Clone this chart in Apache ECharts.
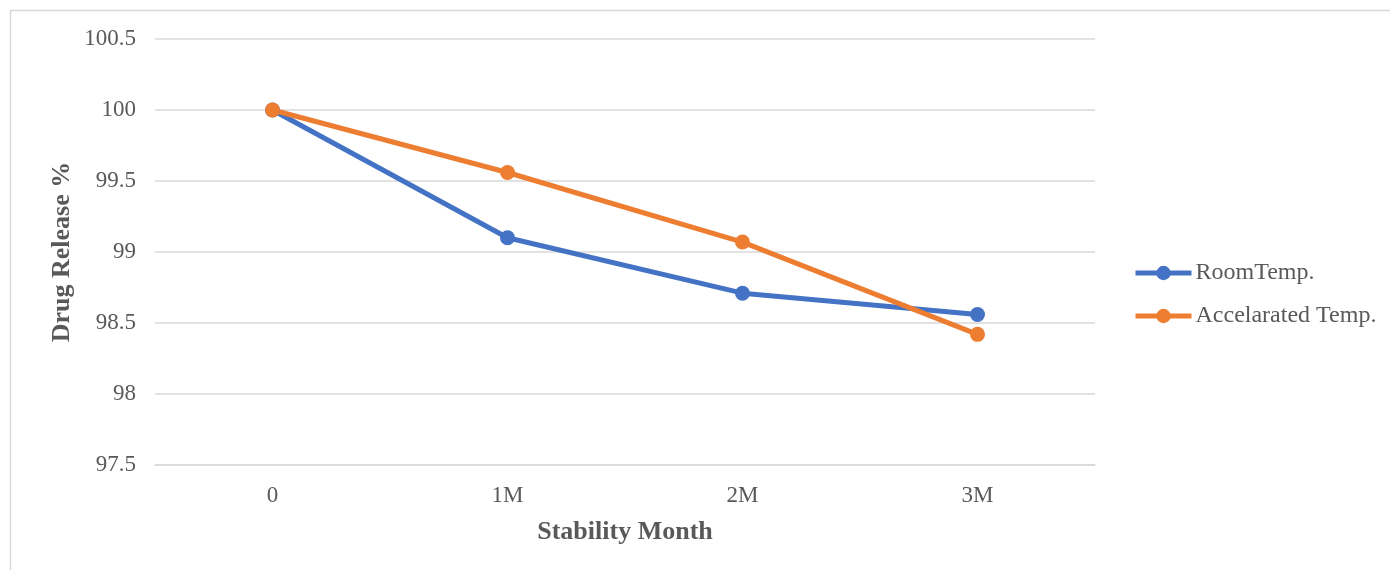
<!DOCTYPE html>
<html>
<head>
<meta charset="utf-8">
<script src="https://cdn.jsdelivr.net/npm/echarts@6/dist/echarts.min.js"></script>
<style>
  html, body { margin: 0; padding: 0; background: #fff; }
  #chart { width: 1390px; height: 570px; }
</style>
</head>
<body>
<div id="chart"></div>
<script>
// Stability study: drug release (%) over storage months
const months = ['0', '1M', '2M', '3M'];
const roomTemp = [100, 99.1, 98.71, 98.56];
const accelTemp = [100, 99.56, 99.07, 98.42];
const seriesNames = ['RoomTemp.', 'Accelarated Temp.'];
const yTicks = { min: 97.5, max: 100.5, step: 0.5 };

const FONT = '"Liberation Serif", "Times New Roman", serif';
const chart = echarts.init(document.getElementById('chart'));

chart.setOption({
  animation: false,
  textStyle: { fontFamily: FONT },
  graphic: [{
    type: 'rect',
    shape: { x: 10.5, y: 10.5, width: 1400, height: 600 },
    style: { fill: 'none', stroke: '#d9d9d9', lineWidth: 1.5 },
    silent: true
  }],
  grid: { left: 155, right: 295, top: 39, bottom: 105 },
  legend: {
    orient: 'vertical',
    left: 1128,
    top: 256,
    itemWidth: 56,
    itemHeight: 18,
    itemGap: 19,
    lineStyle: { width: 5 },
    textStyle: { fontFamily: FONT, fontSize: 24, color: '#595959', padding: [0, 0, 0, -1] },
    data: seriesNames
  },
  xAxis: {
    type: 'category',
    data: months,
    boundaryGap: true,
    axisLine: { lineStyle: { color: '#d9d9d9', width: 1.5 } },
    axisTick: { show: false },
    axisLabel: { fontFamily: FONT, fontSize: 23, color: '#595959', margin: 19 },
    name: 'Stability Month',
    nameLocation: 'middle',
    nameGap: 54,
    nameMoveOverlap: false,
    nameTextStyle: { fontFamily: FONT, fontSize: 26, fontWeight: 'bold', color: '#595959' }
  },
  yAxis: {
    type: 'value',
    min: yTicks.min,
    max: yTicks.max,
    interval: yTicks.step,
    axisLine: { show: false },
    axisTick: { show: false },
    splitLine: { lineStyle: { color: '#d9d9d9', width: 1.5 } },
    axisLabel: { fontFamily: FONT, fontSize: 23, color: '#595959', margin: 19 },
    name: 'Drug Release %',
    nameLocation: 'middle',
    nameGap: 80,
    nameMoveOverlap: false,
    nameRotate: 90,
    nameTextStyle: { fontFamily: FONT, fontSize: 26, fontWeight: 'bold', color: '#595959' }
  },
  series: [
    {
      name: seriesNames[0],
      type: 'line',
      data: roomTemp,
      symbol: 'circle',
      symbolSize: 15,
      lineStyle: { color: '#4472c4', width: 5 },
      itemStyle: { color: '#4472c4' }
    },
    {
      name: seriesNames[1],
      type: 'line',
      data: accelTemp,
      symbol: 'circle',
      symbolSize: 15,
      lineStyle: { color: '#ed7d31', width: 5 },
      itemStyle: { color: '#ed7d31' }
    }
  ]
});
</script>
</body>
</html>
